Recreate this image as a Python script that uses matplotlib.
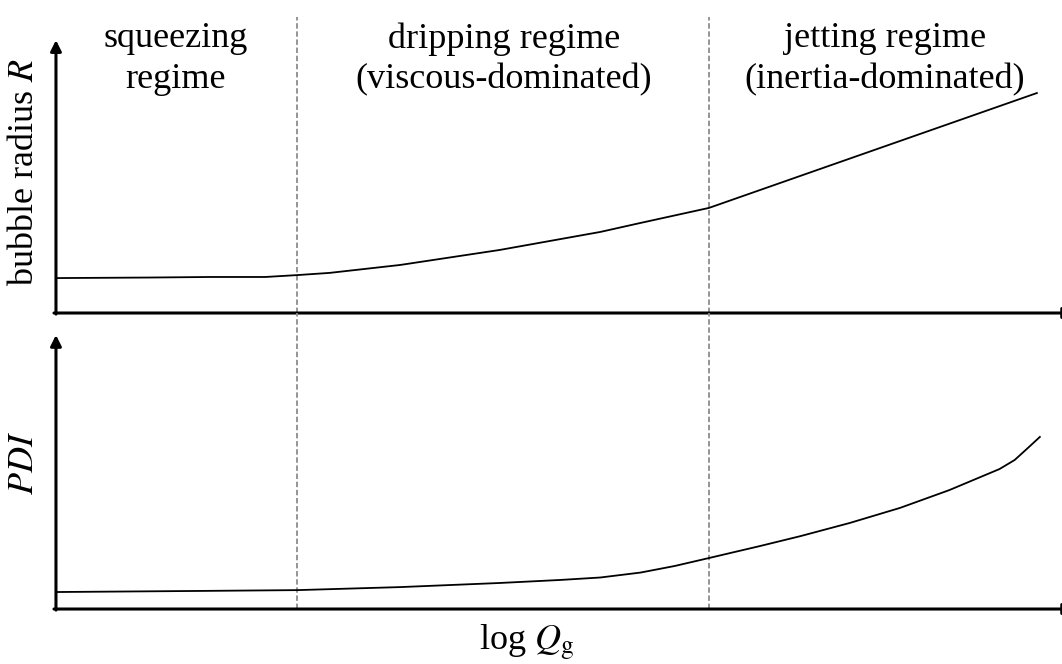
import matplotlib
matplotlib.use("Agg")
import matplotlib.pyplot as plt

plt.rcParams["font.family"] = ["Liberation Serif", "DejaVu Serif"]
plt.rcParams["mathtext.fontset"] = "stix"

# regime boundaries along log Qg (axis runs 0..10)
boundaries = [2.40, 6.49]
regime_labels = ["squeezing\nregime",
                 "dripping regime\n(viscous-dominated)",
                 "jetting regime\n(inertia-dominated)"]
regime_x = [1.19, 4.45, 8.24]

# bubble radius R vs log Qg
radius_x = [0.0, 0.93, 1.53, 2.08, 2.40, 2.72, 3.42, 4.41, 5.41, 5.81, 6.49, 9.75]
radius_y = [1.28, 1.30, 1.32, 1.32, 1.39, 1.47, 1.76, 2.31, 2.97, 3.30, 3.85, 8.06]

# PDI vs log Qg
pdi_x = [0.0, 1.43, 2.40, 3.42, 4.41, 5.01, 5.41, 5.81, 6.15, 6.49, 7.00, 7.40,
         7.89, 8.39, 8.88, 9.38, 9.53, 9.65, 9.78]
pdi_y = [0.62, 0.66, 0.69, 0.80, 0.95, 1.06, 1.15, 1.33, 1.57, 1.86, 2.30, 2.66,
         3.14, 3.69, 4.34, 5.11, 5.44, 5.84, 6.28]

fig = plt.figure(figsize=(10.62, 6.64), dpi=100)
ax_top = fig.add_axes([0.0527, 0.5286, 0.9473, 0.411])
ax_bot = fig.add_axes([0.0527, 0.0828, 0.9473, 0.4127])

arrow_kw = dict(arrowstyle="-|>", lw=2.2, color="black", mutation_scale=16,
                shrinkA=0, shrinkB=0)

for ax in (ax_top, ax_bot):
    ax.set_xlim(0, 10)
    ax.set_ylim(0, 10)
    for s in ax.spines.values():
        s.set_visible(False)
    ax.set_xticks([])
    ax.set_yticks([])
    ax.patch.set_alpha(0)
    # arrowed axes: y up, x to the right edge
    ax.annotate("", xy=(0, 1), xytext=(0, -0.004), xycoords="axes fraction",
                arrowprops=arrow_kw, annotation_clip=False)
    ax.annotate("", xy=(1.012, 0), xytext=(-0.002, 0), xycoords="axes fraction",
                arrowprops=arrow_kw, annotation_clip=False)

for b in boundaries:
    ax_top.axvline(b, ymin=0, ymax=1.084, color="#8c8c8c", lw=1.3,
                   ls=(0, (3, 1.5)), clip_on=False, zorder=1)
    ax_bot.axvline(b, ymin=0, ymax=1.08, color="#8c8c8c", lw=1.3,
                   ls=(0, (3, 1.5)), clip_on=False, zorder=1)

ax_top.plot(radius_x, radius_y, color="black", lw=1.3, zorder=3)
ax_bot.plot(pdi_x, pdi_y, color="black", lw=1.3, zorder=3)

for lbl, xr in zip(regime_labels, regime_x):
    ax_top.text(xr, 0.93, lbl, transform=ax_top.get_xaxis_transform(),
                ha="center", va="center", fontsize=26, linespacing=1.3)

fig.text(0.0235, 0.741, "bubble radius $R$", rotation=90, ha="center",
         va="center", fontsize=26)
fig.text(0.0235, 0.303, "$PDI$", rotation=90, ha="center", va="center",
         fontsize=26)
fig.text(0.496, 0.032, r"log $Q_{\mathrm{g}}$", ha="center", va="center",
         fontsize=26)

fig.savefig("out.png", dpi=100)
